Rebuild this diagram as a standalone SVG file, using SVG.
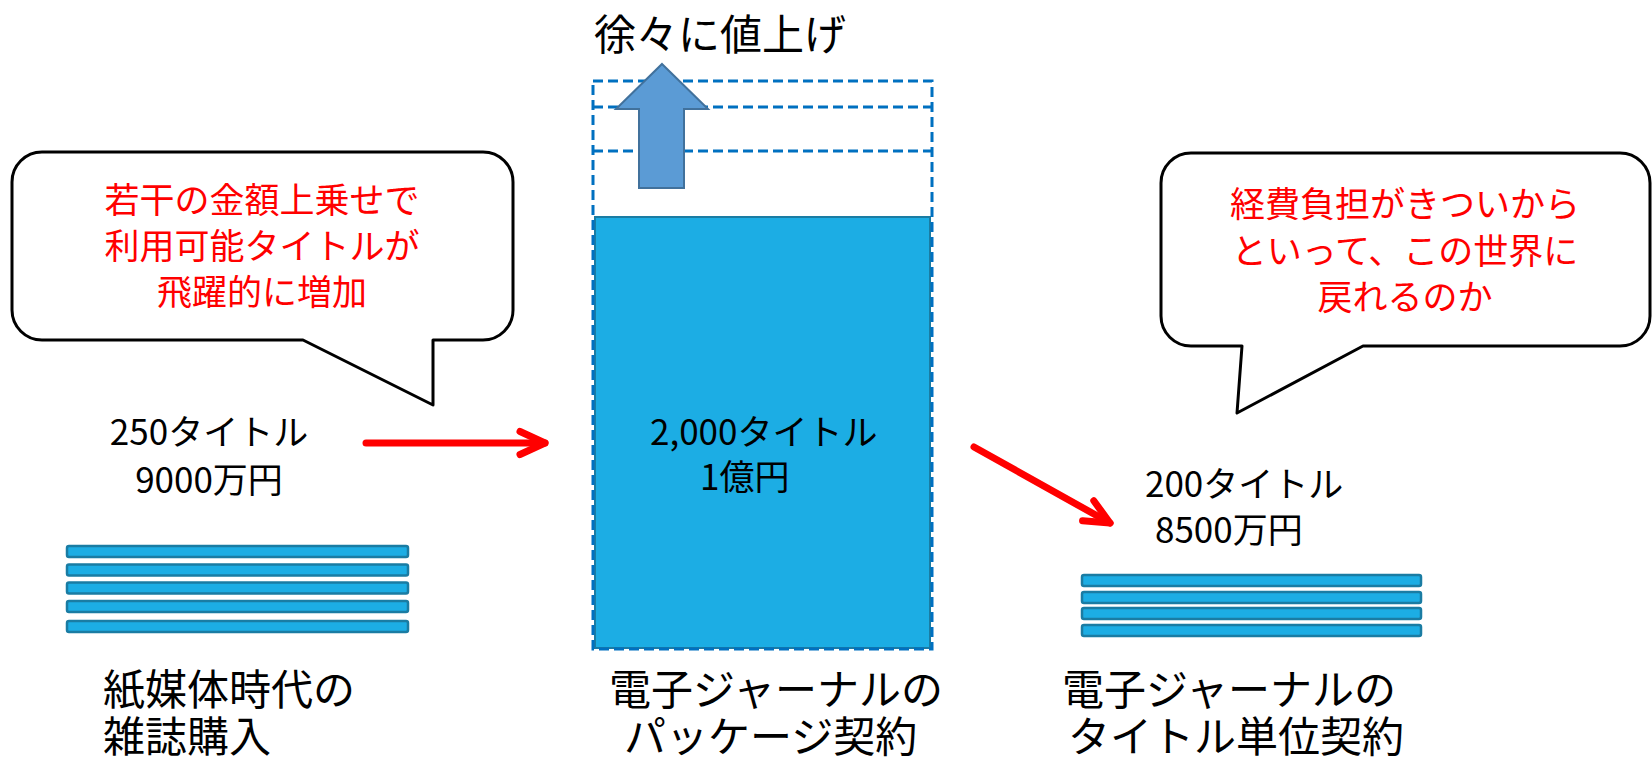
<svg xmlns="http://www.w3.org/2000/svg" width="1652" height="757" viewBox="0 0 1652 757">
<style>
text{font-family:"Noto Sans CJK JP","Noto Sans",sans-serif;fill:#000}
.n{font-size:35px}
.l{font-size:42px}
.r{font-size:35px;fill:#FF0000;text-anchor:middle}
.bub{fill:#fff;stroke:#000;stroke-width:3;stroke-linejoin:round}
.bar{fill:#1CADE4;stroke:#1A7CA3;stroke-width:2.5}
.dash{fill:none;stroke:#0070C0;stroke-width:3;stroke-dasharray:10 5}
.con{fill:none;stroke:#FF0000;stroke-width:7;stroke-linecap:round;stroke-linejoin:round}
</style>
<defs>
<marker id="chev" markerUnits="userSpaceOnUse" orient="auto" refX="0" refY="0" markerWidth="40" markerHeight="40" overflow="visible">
<path d="M-25,-11.5 L0,0 L-25,11.5" fill="none" stroke="#FF0000" stroke-width="7" stroke-linecap="round" stroke-linejoin="round"/>
</marker>
</defs>
<rect width="1652" height="757" fill="#fff"/>

<g id="bubble-left">
<path class="bub" d="M42,152 H483 A30,30 0 0 1 513,182 V310 A30,30 0 0 1 483,340 H433 V405 L303,340 H42 A30,30 0 0 1 12,310 V182 A30,30 0 0 1 42,152 Z"/>
<text class="r" x="262" y="213">若干の金額上乗せで</text>
<text class="r" x="262" y="259">利用可能タイトルが</text>
<text class="r" x="262" y="305">飛躍的に増加</text>
</g>

<g id="bubble-right">
<path class="bub" d="M1191,153 H1620 A30,30 0 0 1 1650,183 V316 A30,30 0 0 1 1620,346 H1363 L1237,413 L1242,346 H1191 A30,30 0 0 1 1161,316 V183 A30,30 0 0 1 1191,153 Z"/>
<text class="r" x="1405" y="217">経費負担がきついから</text>
<text class="r" x="1405" y="264">といって、この世界に</text>
<text class="r" x="1405" y="310">戻れるのか</text>
</g>

<g id="paper">
<text class="n" x="209" y="445" text-anchor="middle">250タイトル</text>
<text class="n" x="209" y="493" text-anchor="middle">9000万円</text>
<rect class="bar" x="67" y="546" width="341" height="11" rx="2"/>
<rect class="bar" x="67" y="564.5" width="341" height="11" rx="2"/>
<rect class="bar" x="67" y="582.5" width="341" height="11" rx="2"/>
<rect class="bar" x="67" y="601" width="341" height="11" rx="2"/>
<rect class="bar" x="67" y="621" width="341" height="11" rx="2"/>
<text class="l" x="103" y="705">紙媒体時代の</text>
<text class="l" x="103" y="752">雑誌購入</text>
</g>

<g id="package">
<rect x="595" y="217" width="335" height="431" fill="#1CADE4" stroke="#1A7CA3" stroke-width="2"/>
<rect class="dash" x="593" y="81" width="339" height="568"/>
<line class="dash" x1="593" y1="107" x2="932" y2="107"/>
<line class="dash" x1="593" y1="151" x2="932" y2="151"/>
<polygon points="662,64 708,109 684,109 684,188 639,188 639,109 616,109" fill="#5B9BD5" stroke="#41719C" stroke-width="2"/>
<text class="l" x="594" y="50">徐々に値上げ</text>
<text class="n" x="650" y="445">2,000タイトル</text>
<text class="n" x="700" y="490">1億円</text>
<text class="l" x="609" y="705">電子ジャーナルの</text>
<text class="l" x="624" y="752">パッケージ契約</text>
</g>

<g id="title">
<text class="n" x="1145" y="497">200タイトル</text>
<text class="n" x="1155" y="543">8500万円</text>
<rect class="bar" x="1082" y="575" width="339" height="11" rx="2"/>
<rect class="bar" x="1082" y="592" width="339" height="11" rx="2"/>
<rect class="bar" x="1082" y="608" width="339" height="11" rx="2"/>
<rect class="bar" x="1082" y="625" width="339" height="11" rx="2"/>
<text class="l" x="1062" y="705">電子ジャーナルの</text>
<text class="l" x="1068" y="752">タイトル単位契約</text>
</g>

<g id="connectors">
<path class="con" d="M366,443 L545,443" marker-end="url(#chev)"/>
<path class="con" d="M974,447 L1110,523" marker-end="url(#chev)"/>
</g>
</svg>
